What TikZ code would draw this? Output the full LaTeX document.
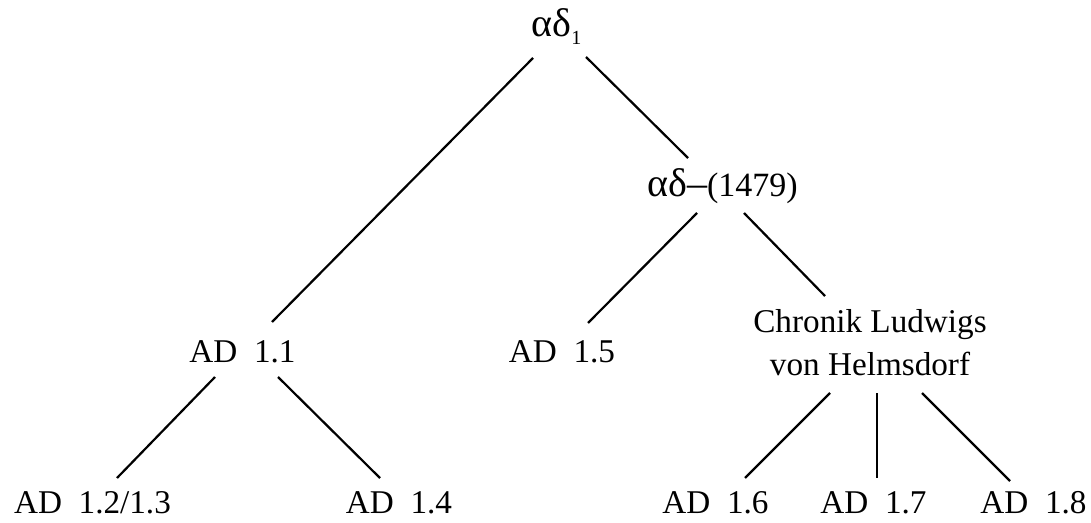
\documentclass[tikz,border=0pt]{standalone}
\usepackage{fontspec}
\setmainfont{Liberation Serif}
\begin{document}
\begin{tikzpicture}[x=0.5pt,y=-0.5pt,
  lbl/.style={inner sep=0pt,outer sep=0pt,anchor=base,font=\fontsize{16.6}{21}\selectfont},
  greek/.style={inner sep=0pt,outer sep=0pt,anchor=base,font=\fontsize{20}{24}\selectfont},
  edge/.style={line width=1.1pt,black}]
\useasboundingbox (0,0) rectangle (1091,523);
% nodes
\node[greek] (t) at (556.5,37) {αδ\raisebox{-4pt}{\fontsize{10}{12}\selectfont 1}};
\node[greek] (m) at (722.5,197) {αδ–{\fontsize{17}{20}\selectfont(1479)}};
\node[lbl] (a11) at (242.5,363) {AD~~1.1};
\node[lbl] (a15) at (562,363) {AD~~1.5};
\node[lbl] (chron) at (870,333) {\begin{tabular}[t]{@{}c@{}}Chronik Ludwigs\\von Helmsdorf\end{tabular}};
\node[lbl] (a12) at (92.5,513) {AD~~1.2/1.3};
\node[lbl] (a14) at (399,513) {AD~~1.4};
\node[lbl] (a16) at (715.5,513) {AD~~1.6};
\node[lbl] (a17) at (873.5,513) {AD~~1.7};
\node[lbl] (a18) at (1033.5,513) {AD~~1.8};
% connectors
\draw[edge] ([shift={(-23.5,21)}]t.base) -- ([shift={(29.5,-41)}]a11.base);
\draw[edge] ([shift={(29.5,20)}]t.base) -- ([shift={(-34.5,-39)}]m.base);
\draw[edge] ([shift={(-25.5,16)}]m.base) -- ([shift={(26,-40)}]a15.base);
\draw[edge] ([shift={(21.5,16)}]m.base) -- ([shift={(-45,-37)}]chron.base);
\draw[edge] ([shift={(-27.5,14)}]a11.base) -- ([shift={(24.5,-35)}]a12.base);
\draw[edge] ([shift={(35.5,14)}]a11.base) -- ([shift={(-19,-35)}]a14.base);
\draw[edge] ([shift={(-40,60)}]chron.base) -- ([shift={(29.5,-35)}]a16.base);
\draw[edge] ([shift={(7,60)}]chron.base) -- ([shift={(3.5,-35)}]a17.base);
\draw[edge] ([shift={(52,60)}]chron.base) -- ([shift={(-23.5,-32)}]a18.base);
\end{tikzpicture}
\end{document}
